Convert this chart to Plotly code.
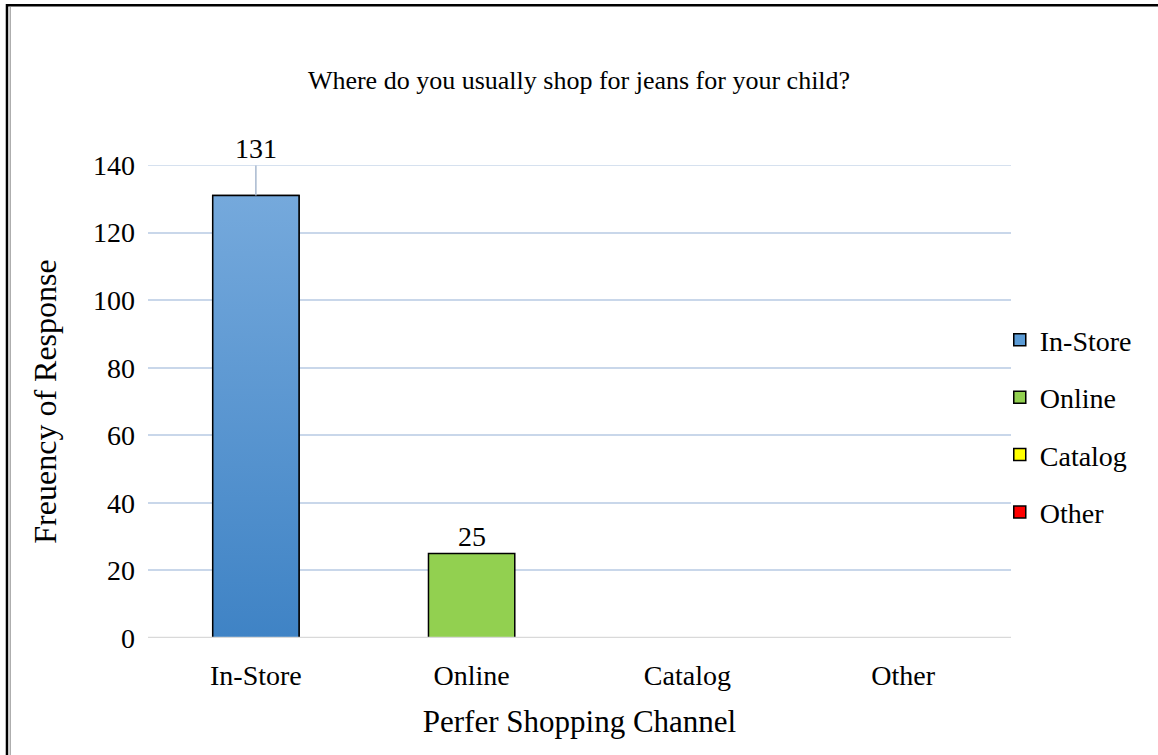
import plotly.graph_objects as go

# Survey responses: preferred shopping channel for children's jeans
categories = ["In-Store", "Online", "Catalog", "Other"]
responses = [131, 25, 0, 0]
bar_colors = ["#5b9bd5", "#92d050", "#ffff00", "#ff0000"]
y_ticks = [0, 20, 40, 60, 80, 100, 120, 140]

FONT = "Times New Roman, Liberation Serif, serif"
BAR_W = 0.4
GRID = "#c9d7ea"

fig = go.Figure()

for i, (cat, val, col) in enumerate(zip(categories, responses, bar_colors)):
    fig.add_trace(go.Bar(
        x=[i], y=[val], name=cat, width=BAR_W,
        marker=dict(color=col, line=dict(color="black", width=1.5)),
        legendgroup=cat, hoverinfo="x+y",
    ))

# vertical gradient for the In-Store bar, built from its value and width
x0, x1 = 0 - BAR_W / 2, 0 + BAR_W / 2
fig.add_trace(go.Scatter(
    x=[x0, x1, x1, x0, x0], y=[0, 0, responses[0], responses[0], 0],
    mode="lines", fill="toself",
    fillgradient=dict(type="vertical",
                      colorscale=[[0, "#3f83c5"], [1, "#75a9dc"]]),
    line=dict(color="black", width=1.5),
    showlegend=False, hoverinfo="skip",
))

# data labels
fig.add_annotation(
    x=0, y=responses[0], text=str(responses[0]),
    showarrow=True, arrowhead=0, arrowwidth=1.5, arrowcolor="#a9b9cf",
    ax=0, ay=-47, standoff=0,
    font=dict(family=FONT, size=28, color="black"),
)
fig.add_annotation(
    x=1, y=responses[1], text=str(responses[1]),
    showarrow=False, yanchor="bottom", yshift=0,
    font=dict(family=FONT, size=28, color="black"),
)

# top gridline at the axis maximum
fig.add_shape(type="line", xref="paper", yref="y", x0=0, x1=1,
              y0=y_ticks[-1], y1=y_ticks[-1],
              line=dict(color=GRID, width=1.5), layer="below")

# category axis baseline drawn over the bar bottoms
fig.add_shape(type="line", xref="paper", yref="y", x0=0, x1=1, y0=0, y1=0,
              line=dict(color="#d9d9d9", width=2.5), layer="above")

# outer chart border with a soft inner shadow on the left edge
fig.add_shape(type="rect", xref="paper", yref="paper",
              x0=-0.1634, x1=1.2, y0=-0.3, y1=1.338,
              line=dict(color="black", width=2.5), layer="above")
fig.add_shape(type="line", xref="paper", yref="paper",
              x0=(10.2 - 148) / 863, x1=(10.2 - 148) / 863,
              y0=-0.3, y1=(638 - 7) / 473,
              line=dict(color="#9a9a9a", width=1.2), layer="above")

fig.update_layout(
    width=1158, height=755,
    margin=dict(l=148, r=147, t=165, b=117, autoexpand=False),
    paper_bgcolor="white", plot_bgcolor="white",
    barmode="overlay",
    font=dict(family=FONT, size=28, color="black"),
    title=dict(text="Where do you usually shop for jeans for your child?",
               x=0.5, xanchor="center", y=1 - 80 / 755, yanchor="middle",
               yref="container", font=dict(family=FONT, size=26)),
    xaxis=dict(range=[-0.5, 3.5], tickvals=list(range(len(categories))),
               ticktext=categories, showgrid=False, zeroline=False,
               showline=False, ticks="", ticklabelstandoff=18,
               tickfont=dict(family=FONT, size=28),
               title=dict(text="Perfer Shopping Channel", standoff=20,
                          font=dict(family=FONT, size=31))),
    yaxis=dict(range=[0, 140], tickvals=y_ticks, showgrid=True,
               gridcolor=GRID, gridwidth=1.5, zeroline=False,
               showline=False, ticks="", ticklabelstandoff=12,
               tickfont=dict(family=FONT, size=28),
               title=dict(text="Freuency of Response", standoff=26,
                          font=dict(family=FONT, size=32))),
    legend=dict(x=0.987, xanchor="left", y=0.448, yanchor="middle",
                font=dict(family=FONT, size=28), tracegroupgap=18,
                itemwidth=30, bgcolor="rgba(0,0,0,0)"),
    showlegend=True,
)

fig.write_html("out.html")
